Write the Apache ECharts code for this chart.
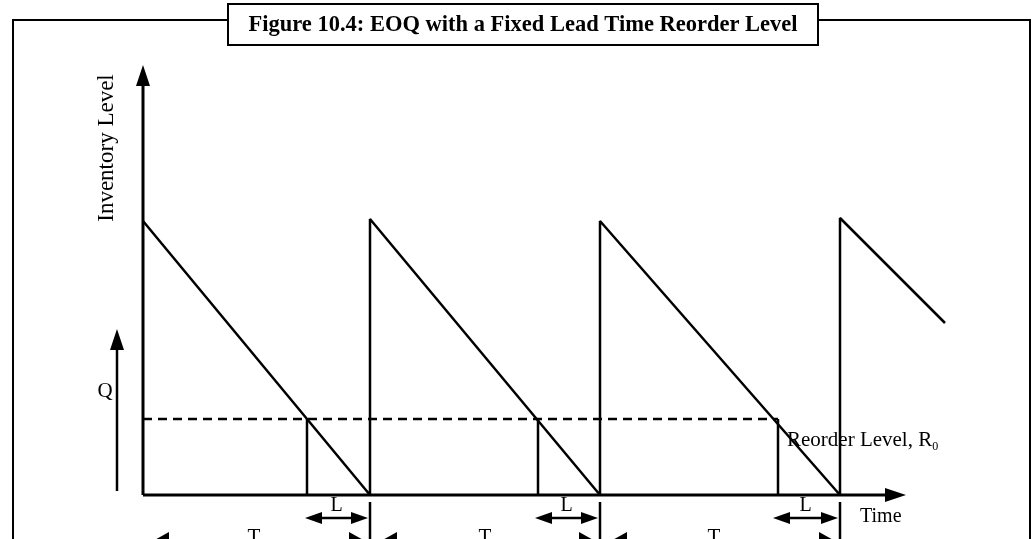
<!DOCTYPE html>
<html><head><meta charset="utf-8">
<script src="https://cdn.jsdelivr.net/npm/echarts@6/dist/echarts.min.js"></script>
<style>html,body{margin:0;padding:0;background:#fff}#c{width:1034px;height:539px}</style>
</head><body><div id="c"></div>
<script>
// ---- data (x: time units, y: inventory units; origin where the axes cross) ----
const titleText = 'Figure 10.4: EOQ with a Fixed Lead Time Reorder Level';
const sawtooth = [[0,274],[227,0],[227,276],[457,0],[457,274],[697,0],[697,277],[802,172]];
const reorderLevel = 76;
const reorderTimes = [164, 395, 635];
const cycleEnds = [227, 457, 697];
const leadSpans = [[162,225],[392,455],[630,695]];
const cycleSpans = [[8,224],[236,454],[466,694]];
const cycleLabelX = [111, 342, 571];
const axisArrowsData = [[0,0,0,430],[0,0,763,0]];
const qArrowData = [[-26,4,-26,166]];
const axisLabels = { y: 'Inventory Level', x: 'Time', q: 'Q', lead: 'L', cycle: 'T', reorder: 'Reorder Level, R', reorderSub: '0' };

// ---- chart ----
const INK = '#000';
const SERIF = '"Liberation Serif", "DejaVu Serif", serif';
const chart = echarts.init(document.getElementById('c'));

function arrowRender(headStart, headEnd, headLen, headHalf, lw) {
  return function (params, api) {
    const p1 = api.coord([api.value(0), api.value(1)]);
    const p2 = api.coord([api.value(2), api.value(3)]);
    const dx = p2[0] - p1[0], dy = p2[1] - p1[1];
    const len = Math.hypot(dx, dy), ux = dx / len, uy = dy / len, nx = -uy, ny = ux;
    const a = headStart ? [p1[0] + ux * headLen * 0.8, p1[1] + uy * headLen * 0.8] : p1;
    const b = headEnd ? [p2[0] - ux * headLen * 0.8, p2[1] - uy * headLen * 0.8] : p2;
    const children = [{ type: 'line', shape: { x1: a[0], y1: a[1], x2: b[0], y2: b[1] }, style: { stroke: INK, lineWidth: lw } }];
    function head(tip, dx2, dy2) {
      const bx = tip[0] - dx2 * headLen, by = tip[1] - dy2 * headLen;
      return { type: 'polygon', shape: { points: [tip, [bx + nx * headHalf, by + ny * headHalf], [bx - nx * headHalf, by - ny * headHalf]] }, style: { fill: INK } };
    }
    if (headStart) children.push(head(p1, -ux, -uy));
    if (headEnd) children.push(head(p2, ux, uy));
    return { type: 'group', children };
  };
}
function segmentRender(lw) {
  return function (params, api) {
    const p1 = api.coord([api.value(0), api.value(1)]);
    const p2 = api.coord([api.value(2), api.value(3)]);
    return { type: 'line', shape: { x1: p1[0], y1: p1[1], x2: p2[0], y2: p2[1] }, style: { stroke: INK, lineWidth: lw } };
  };
}
function textSeries(points, texts, opts) {
  return {
    type: 'custom', coordinateSystem: 'cartesian2d', silent: true,
    data: points,
    renderItem: function (params, api) {
      const p = api.coord([api.value(0), api.value(1)]);
      return { type: 'text', x: p[0], y: p[1], rotation: opts.rotation || 0,
        style: { text: texts[params.dataIndex], fill: INK, font: opts.font, align: opts.align || 'center', verticalAlign: opts.va || 'middle' } };
    }
  };
}

const leadArrows = leadSpans.map(s => [s[0], -23, s[1], -23]);
const cycleArrows = cycleSpans.map(s => [s[0], -47, s[1], -47]);
const reorderVerticals = reorderTimes.map(t => [t, 0, t, reorderLevel]);
const cycleTicks = cycleEnds.map(t => [t, -7, t, -50]);

chart.setOption({
  animation: false,
  backgroundColor: '#fff',
  grid: { left: 0, right: 0, top: 0, bottom: 0 },
  xAxis: { type: 'value', min: -143, max: 891, show: false },
  yAxis: { type: 'value', min: -44, max: 495, show: false },
  graphic: [
    { type: 'rect', z: 1, shape: { x: 13, y: 20, width: 1017, height: 560 }, style: { fill: 'none', stroke: INK, lineWidth: 2 } },
    { type: 'rect', z: 2, shape: { x: 228, y: 4, width: 590, height: 41 }, style: { fill: '#fff', stroke: INK, lineWidth: 2 } },
    { type: 'text', z: 3, x: 523, y: 25, style: { text: titleText, font: 'bold 22.5px ' + SERIF, fill: INK, align: 'center', verticalAlign: 'middle' } }
  ],
  series: [
    { type: 'line', data: sawtooth, showSymbol: false, symbol: 'none', lineStyle: { color: INK, width: 2.5 }, silent: true },
    { type: 'line', data: [[0, reorderLevel], [reorderTimes[2], reorderLevel]], showSymbol: false, symbol: 'none', lineStyle: { color: INK, width: 2.5, type: [9, 6] }, silent: true },
    { type: 'custom', coordinateSystem: 'cartesian2d', data: reorderVerticals, renderItem: segmentRender(2.5), silent: true },
    { type: 'custom', coordinateSystem: 'cartesian2d', data: cycleTicks, renderItem: segmentRender(2.5), silent: true },
    { type: 'custom', coordinateSystem: 'cartesian2d', data: axisArrowsData, renderItem: arrowRender(false, true, 21, 7, 3), silent: true },
    { type: 'custom', coordinateSystem: 'cartesian2d', data: qArrowData, renderItem: arrowRender(false, true, 21, 7, 2.5), silent: true },
    { type: 'custom', coordinateSystem: 'cartesian2d', data: leadArrows, renderItem: arrowRender(true, true, 17, 6, 2.5), silent: true },
    { type: 'custom', coordinateSystem: 'cartesian2d', data: cycleArrows, renderItem: arrowRender(true, true, 18, 10, 2.5), silent: true },
    textSeries([[-36, 347]], [axisLabels.y], { font: '23px ' + SERIF, rotation: Math.PI / 2 }),
    textSeries([[-38, 104]], [axisLabels.q], { font: '21px ' + SERIF }),
    textSeries([[717, -22]], [axisLabels.x], { font: '20px ' + SERIF, align: 'left' }),
    textSeries(leadSpans.map(s => [(s[0] + s[1]) / 2, -11]), leadSpans.map(() => axisLabels.lead), { font: '20px ' + SERIF }),
    textSeries(cycleLabelX.map(x => [x, -42]), cycleLabelX.map(() => axisLabels.cycle), { font: '21px ' + SERIF }),
    {
      type: 'custom', coordinateSystem: 'cartesian2d', silent: true,
      data: [[644, 55]],
      renderItem: function (params, api) {
        const p = api.coord([api.value(0), api.value(1)]);
        return { type: 'text', x: p[0], y: p[1], style: {
          text: '{a|' + axisLabels.reorder + '}{b|' + axisLabels.reorderSub + '}',
          align: 'left', verticalAlign: 'middle',
          rich: {
            a: { fontFamily: SERIF, fontSize: 21, lineHeight: 26, fill: INK, color: INK },
            b: { fontFamily: SERIF, fontSize: 12, lineHeight: 26, verticalAlign: 'bottom', fill: INK, color: INK }
          }
        } };
      }
    }
  ]
});
</script></body></html>
